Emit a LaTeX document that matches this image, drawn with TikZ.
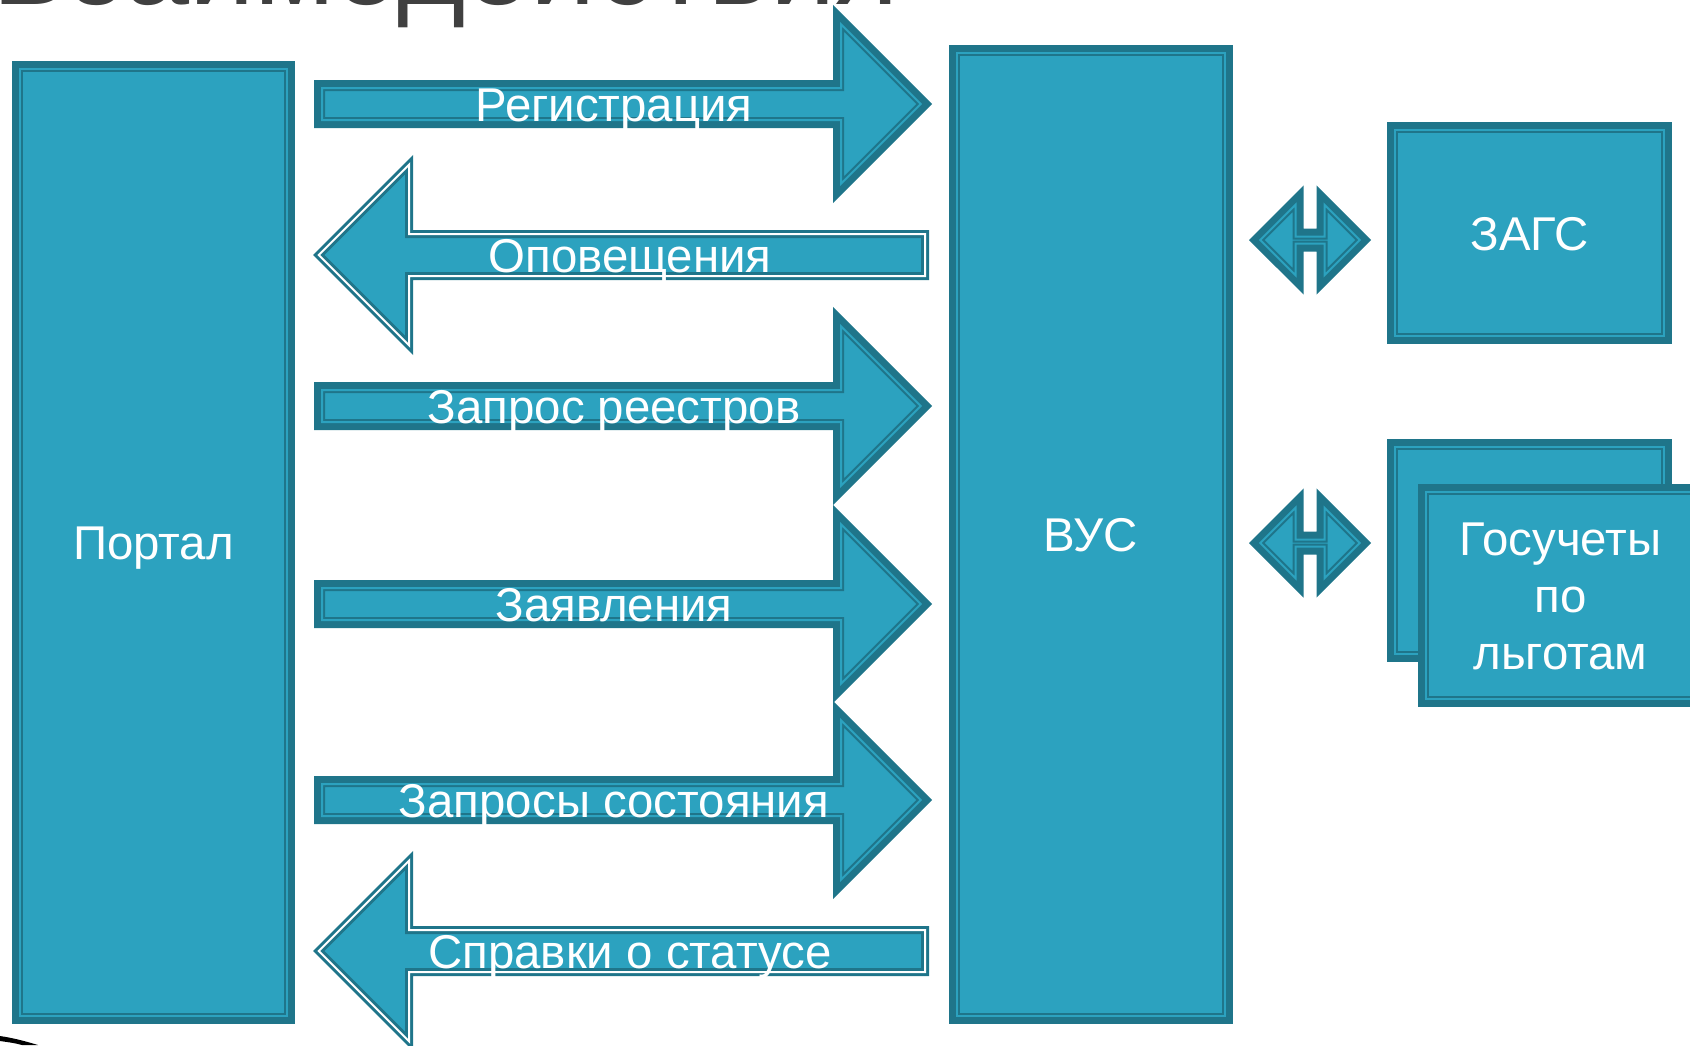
\documentclass[tikz,border=0pt]{standalone}
\usepackage{fontspec}
\setmainfont{Liberation Sans}
\usetikzlibrary{calc}
\usetikzlibrary{positioning}
\usetikzlibrary{shapes.arrows}

\definecolor{boxfill}{RGB}{44,162,191}
\definecolor{boxedge}{RGB}{31,117,138}
\definecolor{titlegray}{RGB}{64,64,64}
\newcommand{\labelfont}{\fontsize{23.7}{28.3}\selectfont}
\newcommand{\titlefont}{\fontsize{58.5}{62}\selectfont}

\begin{document}
\begin{tikzpicture}[x=0.5pt, y=-0.5pt]
    \tikzstyle{framed}=[fill=boxfill, draw=boxedge, line width=3pt,
      preaction={draw=boxedge, line width=8pt},
      postaction={draw=boxfill, line width=1pt},
      inner sep=0pt, outer sep=0pt]
    \tikzstyle{system}=[framed, rectangle, text=white, font=\labelfont,
      text height=17pt, text depth=0pt]
    \tikzstyle{toright}=[framed, single arrow, anchor=tail,
      inner xsep=0pt, inner ysep=6.5pt,
      single arrow head extend=31.85pt, minimum height=299.35pt]
    \tikzstyle{toleft}=[single arrow, shape border rotate=180, anchor=tail,
      fill=boxfill, draw=boxedge, line width=4pt,
      postaction={draw=white, line width=1pt},
      inner xsep=0pt, inner ysep=8.5pt, outer sep=0pt,
      single arrow head extend=34.7pt, minimum height=303.15pt]
    \tikzstyle{exchange}=[framed, double arrow,
      inner xsep=0pt, inner ysep=0.25pt,
      double arrow head extend=15.85pt, minimum height=49.7pt]
    \tikzstyle{caption}=[text=white, font=\labelfont, inner sep=0pt,
      text height=17pt, text depth=0pt]

    \useasboundingbox (0,0) rectangle (1690,1045);
    \clip (0,0) rectangle (1690,1045);

    % Title, cut by the top edge
    \node[anchor=base west, inner sep=0pt, text=titlegray, font=\titlefont]
      (title) at (-8,4) {Взаимодействия};
    \fill[black] (0,1036) .. controls (14,1038) and (28,1042) .. (38,1045)
      -- (22,1045) .. controls (14,1043) .. (0,1041) -- cycle;

    % Systems
    \node[system, minimum width=133.5pt, minimum height=473.5pt]
      (portal) at (153.5,542.5) {Портал};
    \node[system, minimum width=134pt, minimum height=481.5pt]
      (vus) at (1091,534.5) {ВУС};
    \node[system, minimum width=134.5pt, minimum height=103pt]
      (zags) at (1529.5,233) {ЗАГС};
    \node[system, minimum width=134.5pt, minimum height=103.5pt]
      (benefits-back) at (1529.5,550.5) {};
    \node[system, align=center, text height=73.6pt, text depth=0pt,
      minimum width=134.5pt, minimum height=103.5pt]
      (benefits) at (1560.5,595.5) {Госучеты\\по\\льготам};

    % Portal <-> VUS
    \node[toright] (reg) at (322,104) {};
    \node[caption] (reg-text) at (614,104) {Регистрация};
    \node[toleft] (notify) at (925,255) {};
    \node[caption] (notify-text) at (630,255) {Оповещения};
    \node[toright] (registries) at (322,406) {};
    \node[caption] (registries-text) at (614,406) {Запрос реестров};
    \node[toright] (claims) at (322,604) {};
    \node[caption] (claims-text) at (614,604) {Заявления};
    \node[toright] (status-req) at (322,800) {};
    \node[caption] (status-req-text) at (614,800) {Запросы состояния};
    \node[toleft] (status-ref) at (925,951) {};
    \node[caption] (status-ref-text) at (630,951) {Справки о статусе};

    % VUS <-> registers
    \node[exchange] (vus-zags) at (1310,240) {};
    \node[exchange] (vus-benefits) at (1310,543) {};
  \end{tikzpicture}
\end{document}
